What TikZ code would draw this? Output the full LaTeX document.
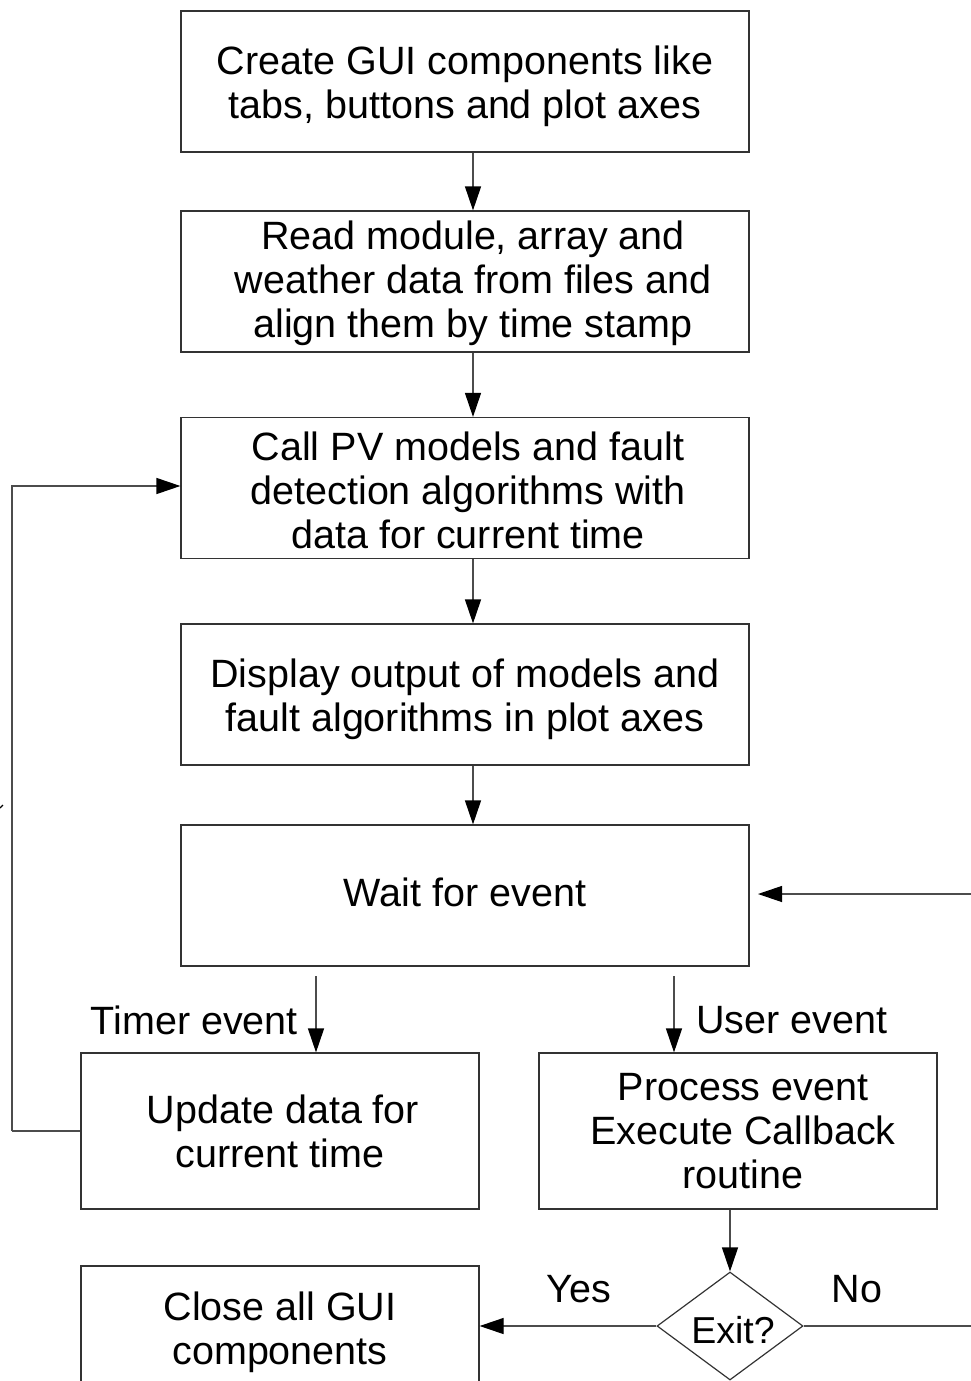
\documentclass[tikz,border=0pt]{standalone}
\usepackage{fontspec}
\setmainfont{Liberation Sans}
\usetikzlibrary{shapes.geometric,arrows.meta,calc}

% invisible struts that move a node's text down (top) or up (bottom)
\newcommand{\topstrut}[1]{\rule{0pt}{#1}}
\newcommand{\botstrut}[1]{\rule[-#1]{0pt}{1pt}}

\tikzset{
  box/.style={draw=black!80, line width=1.2pt, rectangle, inner sep=0pt,
    align=center, font=\fontsize{39.5}{44}\selectfont},
  bigbox/.style={box, minimum width=568pt, minimum height=141pt},
  smallbox/.style={box, minimum width=398pt, minimum height=156pt},
  decision/.style={draw=black!80, line width=1.2pt, diamond, inner sep=0pt, aspect=1.35,
    minimum width=146pt, minimum height=108pt, font=\fontsize{37.5}{42}\selectfont},
  flow/.style={draw=black!70, line width=1.2pt, -{Triangle[length=24pt,width=16pt,color=black]}},
  plain/.style={draw=black!70, line width=1.2pt},
  lbl/.style={inner sep=0pt, font=\fontsize{39.5}{44}\selectfont}
}

\begin{document}
\begin{tikzpicture}[x=1pt, y=-1pt]
  \useasboundingbox (0,0) rectangle (971,1381);
  \clip (0,0) rectangle (971,1381);

  % main column
  \node[bigbox] (create)  at (465, 81.5)  {\topstrut{39pt}Create GUI components like\\tabs, buttons and plot axes};
  \node[bigbox] (read)    at (465, 281.5) {\topstrut{33pt}\hspace*{16pt}Read module, array and\\\hspace*{16pt}weather data from files and\\\hspace*{16pt}align them by time stamp};
  \node[bigbox] (call)    at (465, 488)   {\topstrut{33pt}\hspace*{6pt}Call PV models and fault\\\hspace*{6pt}detection algorithms with\\\hspace*{6pt}data for current time};
  \node[bigbox] (display) at (465, 694.5) {\topstrut{39pt}Display output of models and\\fault algorithms in plot axes};
  \node[bigbox] (wait)    at (465, 895.5) {Wait for event\botstrut{6pt}};

  % branches
  \node[smallbox] (update)  at (280, 1131) {\hspace*{6pt}Update data for\\current time};
  \node[smallbox] (process) at (738, 1131) {\hspace*{10pt}Process event\\\hspace*{10pt}Execute Callback\\\hspace*{10pt}routine};
  \node[decision] (exit)    at (730, 1326) {\topstrut{36pt}\hspace*{6pt}Exit?};
  \node[box, minimum width=398pt, minimum height=128pt] (close) at (280, 1330) {\topstrut{34pt}Close all GUI\\components};

  % edge labels
  \node[lbl, anchor=east] (ltimer) at (298, 1020) {Timer event};
  \node[lbl, anchor=west] (luser)  at (696, 1020) {User event};
  \node[lbl] (lyes) at (579, 1289) {Yes};
  \node[lbl] (lno)  at (857, 1289) {No};

  % free ends of connectors
  \coordinate (tstart) at (316, 976);
  \coordinate (ustart) at (674, 976);
  \coordinate (loopL)  at (12, 1131);
  \coordinate (loopT)  at (12, 486);
  \coordinate (rin)    at (971, 894);
  \coordinate (rtip)   at (758, 894);
  \coordinate (nout)   at (971, 1326);

  % straight flow
  \draw[flow] (create.south -| 473,0) -- (read.north -| 473,0);
  \draw[flow] (read.south -| 473,0) -- (call.north -| 473,0);
  \draw[flow] (call.south -| 473,0) -- (display.north -| 473,0);
  \draw[flow] (display.south -| 473,0) -- (wait.north -| 473,0);

  % event branches
  \draw[flow] (tstart) -- (tstart |- update.north);
  \draw[flow] (ustart) -- (ustart |- process.north);
  \draw[flow] (process.south -| exit.north) -- (exit.north);

  % timer loop back to model call
  \draw[plain] (update.west) -- (loopL);
  \draw[flow] (loopL) -- (loopT) -- (loopT -| call.west);

  % decision outcomes
  \draw[flow] (exit.west) -- (exit.west -| close.east);
  \draw[plain] (exit.east) -- (nout);
  \draw[flow] (rin) -- (rtip);

  % small mark at the left border
  \draw[line width=1.2pt] (0, 808) -- (3, 805);
\end{tikzpicture}
\end{document}
